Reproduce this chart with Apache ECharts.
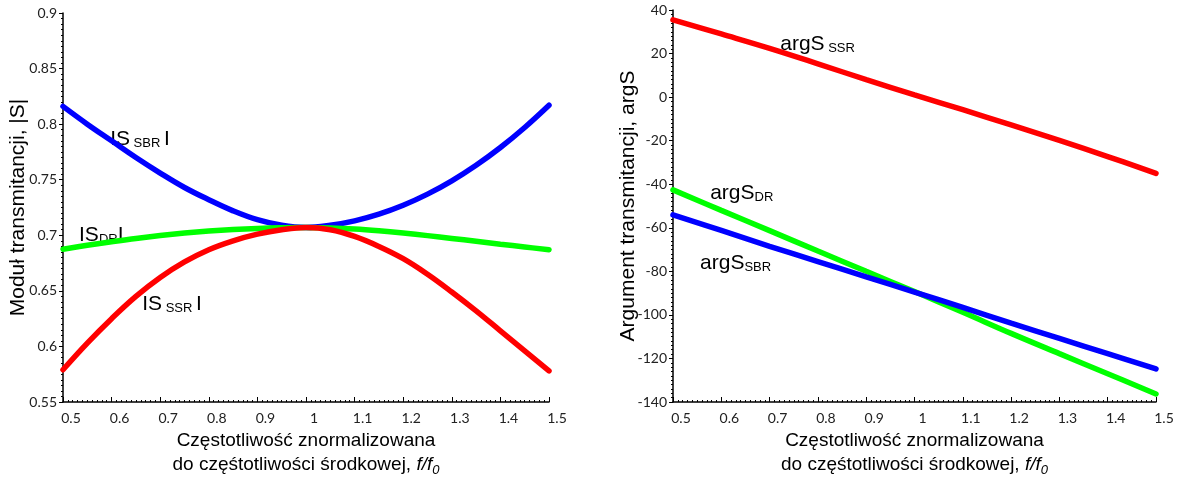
<!DOCTYPE html>
<html lang="pl">
<head>
<meta charset="UTF-8">
<title>Transmitancja</title>
<script src="https://cdn.jsdelivr.net/npm/echarts@6/dist/echarts.min.js"></script>
<style>
  html, body { margin: 0; padding: 0; background: #fff; }
  #main { width: 1180px; height: 477px; }
</style>
</head>
<body>
<div id="main"></div>
<script>
// częstotliwość znormalizowana - lewy wykres (moduł)
var freqMod = [0.5, 0.55, 0.6, 0.65, 0.7, 0.75, 0.8, 0.85, 0.9, 0.95, 1.0,
               1.05, 1.1, 1.15, 1.2, 1.25, 1.3, 1.35, 1.4, 1.45, 1.5];
var modSBR = [0.816, 0.800, 0.785, 0.770, 0.756, 0.743, 0.732, 0.722, 0.714, 0.709, 0.707,
              0.709, 0.713, 0.719, 0.727, 0.737, 0.749, 0.763, 0.779, 0.797, 0.817];
var modDR  = [0.6875, 0.6910, 0.6942, 0.6972, 0.6998, 0.7020, 0.7038, 0.7052, 0.7062, 0.7068, 0.7070,
              0.7066, 0.7056, 0.7040, 0.7020, 0.6997, 0.6972, 0.6946, 0.6920, 0.6895, 0.6870];
var modSSR = [0.579, 0.603, 0.625, 0.645, 0.662, 0.676, 0.687, 0.695, 0.701, 0.705, 0.707,
              0.705, 0.699, 0.690, 0.679, 0.665, 0.649, 0.632, 0.614, 0.596, 0.578];

// prawy wykres (argument)
var freqArg = [0.5, 0.6, 0.7, 0.8, 0.9, 1.0, 1.1, 1.2, 1.3, 1.4, 1.5];
var argSSR = [35.5, 29.0, 22.4, 15.3, 8.0, 1.0, -5.8, -12.8, -19.9, -27.3, -35.0];
var argDR  = [-42.6, -52.0, -61.3, -70.7, -80.0, -89.3, -98.8, -108.5, -117.8, -127.0, -136.3];
var argSBR = [-54.1, -61.2, -68.5, -75.5, -82.5, -89.5, -96.6, -103.8, -110.8, -117.8, -124.8];

// etykiety krzywych: [tekst główny, indeks dolny, końcówka, x, y, wykres]
var curveLabels = [
  ['IS', ' SBR ', 'I', 0.597, 0.788, 0],
  ['IS', 'DR', 'I', 0.533, 0.701, 0],
  ['IS', ' SSR ', 'I', 0.663, 0.639, 0],
  ['argS', ' SSR', '', 0.722, 24.8, 1],
  ['argS', 'DR', '', 0.577, -43.6, 1],
  ['argS', 'SBR', '', 0.556, -75.7, 1]
];

var myChart = echarts.init(document.getElementById('main'));

function zip(xs, ys) {
  return xs.map(function (x, i) { return [x, ys[i]]; });
}

var tickFont = { fontFamily: 'Lato', fontSize: 14, color: '#222' };
var titleFont = 'Liberation Sans';

function xAxisCfg(gridIndex) {
  return {
    type: 'value', gridIndex: gridIndex,
    min: 0.5, max: 1.5, interval: 0.1,
    axisLine: { onZero: false, lineStyle: { color: '#000', width: 1.5 } },
    axisTick: { inside: true, length: 5, lineStyle: { color: '#000' } },
    minorTick: { show: true, splitNumber: 10, length: 2, lineStyle: { color: '#000' } },
    splitLine: { show: false },
    axisLabel: Object.assign({ margin: 9, padding: [0, 0, 0, 16] }, tickFont),
    name: 'Częstotliwość znormalizowana\ndo częśtotliwości środkowej, {i|f/f}{s|0}',
    nameLocation: 'middle',
    nameGap: 27,
    nameMoveOverlap: false,
    nameTextStyle: {
      fontFamily: titleFont, fontSize: 19, color: '#000', lineHeight: 24,
      rich: {
        i: { fontFamily: titleFont, fontSize: 19, fontStyle: 'italic', color: '#000', lineHeight: 24 },
        s: { fontFamily: titleFont, fontSize: 13, fontStyle: 'italic', color: '#000', lineHeight: 18, verticalAlign: 'bottom' }
      }
    }
  };
}

function yAxisCfg(gridIndex, min, max, interval, name) {
  return {
    type: 'value', gridIndex: gridIndex,
    min: min, max: max, interval: interval,
    axisLine: { show: true, onZero: false, lineStyle: { color: '#000', width: 1.5 } },
    axisTick: { show: true, length: 4, lineStyle: { color: '#000' } },
    minorTick: { show: true, splitNumber: 10, length: 2, lineStyle: { color: '#000' } },
    splitLine: { show: false },
    axisLabel: Object.assign({ margin: 6 }, tickFont),
    name: name,
    nameLocation: 'middle',
    nameRotate: 90,
    nameGap: 34,
    nameMoveOverlap: false,
    nameTextStyle: { fontFamily: titleFont, fontSize: 21, color: '#000' }
  };
}

function lineSeries(xi, data, color) {
  return {
    type: 'line', xAxisIndex: xi, yAxisIndex: xi,
    data: data, smooth: 0.4, showSymbol: false, symbol: 'none',
    lineStyle: { color: color, width: 5.5, cap: 'round' },
    animation: false
  };
}

var option = {
  animation: false,
  backgroundColor: '#fff',
  grid: [
    { left: 63, right: 631, top: 13, bottom: 75, outerBoundsMode: 'none' },
    { left: 673, right: 24, top: 10, bottom: 75, outerBoundsMode: 'none' }
  ],
  xAxis: [xAxisCfg(0), xAxisCfg(1)],
  yAxis: [
    yAxisCfg(0, 0.55, 0.9, 0.05, 'Moduł transmitancji, |S|'),
    yAxisCfg(1, -140, 40, 20, 'Argument transmitancji, argS')
  ],
  series: [
    lineSeries(0, zip(freqMod, modSBR), '#0000ff'),
    lineSeries(0, zip(freqMod, modDR), '#00ff00'),
    lineSeries(0, zip(freqMod, modSSR), '#ff0000'),
    lineSeries(1, zip(freqArg, argSSR), '#ff0000'),
    lineSeries(1, zip(freqArg, argDR), '#00ff00'),
    lineSeries(1, zip(freqArg, argSBR), '#0000ff')
  ]
};

myChart.setOption(option);

// etykiety krzywych umieszczone w układzie danych
var graphics = curveLabels.map(function (l) {
  var p = myChart.convertToPixel({ gridIndex: l[5] }, [l[3], l[4]]);
  return {
    type: 'text', x: p[0], y: p[1],
    style: {
      text: '{a|' + l[0] + '}{b|' + l[1] + '}' + (l[2] ? '{a|' + l[2] + '}' : ''),
      verticalAlign: 'middle',
      rich: {
        a: { fontFamily: titleFont, fontSize: 21, fill: '#000', lineHeight: 24, verticalAlign: 'bottom' },
        b: { fontFamily: titleFont, fontSize: 13, fill: '#000', lineHeight: 14, verticalAlign: 'bottom' }
      }
    }
  };
});
myChart.setOption({ graphic: graphics });
</script>
</body>
</html>
